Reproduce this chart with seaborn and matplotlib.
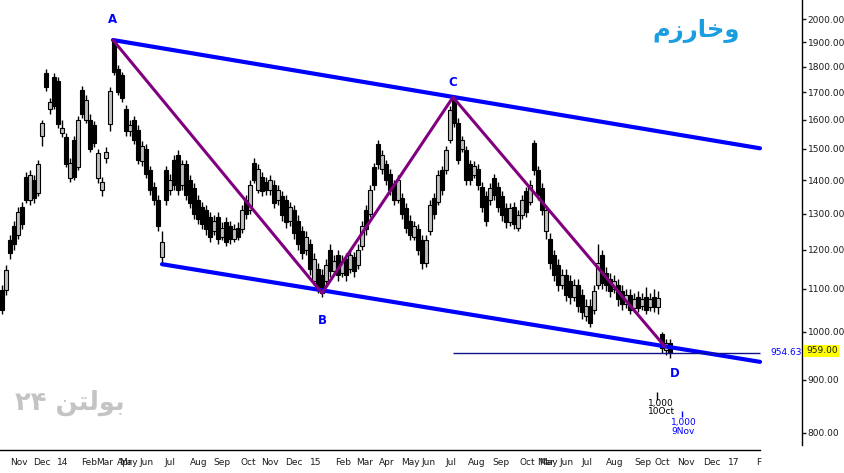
#%%
# Loading packages
import numpy as np
import matplotlib
matplotlib.use("Agg")
import matplotlib.pyplot as plt
import matplotlib.ticker as mticker
import matplotlib.transforms as mtransforms
import seaborn as sns

sns.set_style("white")
plt.rcParams['font.family'] = ['DejaVu Sans']

#%%
# Daily candles (bar index on x, halted days are not shown)
opens = [1098, 1098, 1226, 1265, 1240, 1320, 1410, 1340, 1400, 1360,
         1545, 1775, 1640, 1760, 1745, 1555, 1540, 1405, 1530, 1440,
         1710, 1600, 1600, 1580, 1405, 1370, 1470, 1585, 1905, 1790,
         1765, 1640, 1560, 1600, 1565, 1460, 1500, 1430, 1380, 1340,
         1180, 1430, 1370, 1465, 1480, 1385, 1450, 1400, 1375, 1340,
         1320, 1310, 1290, 1250, 1290, 1235, 1275, 1265, 1230, 1260,
         1255, 1340, 1310, 1455, 1370, 1410, 1395, 1370, 1385, 1340,
         1350, 1340, 1280, 1310, 1280, 1250, 1200, 1215, 1120, 1150,
         1135, 1120, 1200, 1145, 1185, 1140, 1175, 1150, 1180, 1160,
         1210, 1310, 1300, 1440, 1515, 1435, 1450, 1420, 1385, 1340,
         1345, 1315, 1280, 1235, 1255, 1225, 1165, 1250, 1345, 1335,
         1430, 1430, 1530, 1670, 1590, 1500, 1495, 1450, 1415, 1435,
         1380, 1350, 1340, 1405, 1380, 1350, 1315, 1275, 1320, 1260,
         1295, 1365, 1335, 1520, 1430, 1375, 1250, 1230, 1185, 1160,
         1110, 1135, 1120, 1080, 1110, 1085, 1035, 1060, 1050, 1110,
         1185, 1140, 1125, 1100, 1110, 1095, 1065, 1085, 1055, 1080,
         1060, 1080, 1058, 1080, 1058, 995, 960, 975]
closes = [1050, 1147, 1190, 1215, 1305, 1270, 1340, 1415, 1345, 1450,
          1590, 1720, 1665, 1650, 1585, 1570, 1450, 1455, 1410, 1600,
          1620, 1670, 1500, 1520, 1485, 1395, 1490, 1705, 1780, 1700,
          1680, 1560, 1580, 1530, 1465, 1510, 1420, 1370, 1340, 1265,
          1220, 1340, 1400, 1385, 1370, 1450, 1355, 1330, 1300, 1285,
          1270, 1255, 1235, 1280, 1230, 1260, 1220, 1230, 1255, 1235,
          1310, 1300, 1385, 1400, 1435, 1365, 1370, 1400, 1330, 1370,
          1295, 1275, 1320, 1245, 1215, 1190, 1235, 1150, 1175, 1100,
          1090, 1160, 1145, 1170, 1135, 1170, 1135, 1185, 1145, 1200,
          1265, 1255, 1370, 1385, 1450, 1480, 1400, 1370, 1340, 1400,
          1300, 1260, 1240, 1265, 1200, 1165, 1225, 1325, 1300, 1415,
          1370, 1495, 1635, 1590, 1465, 1530, 1400, 1400, 1445, 1385,
          1320, 1280, 1375, 1355, 1320, 1295, 1275, 1315, 1270, 1295,
          1340, 1305, 1385, 1430, 1355, 1310, 1310, 1165, 1135, 1110,
          1135, 1085, 1080, 1110, 1060, 1045, 1060, 1020, 1095, 1165,
          1115, 1110, 1095, 1120, 1075, 1065, 1085, 1050, 1075, 1055,
          1075, 1050, 1075, 1058, 1078, 965, 975, 955]
highs = [1110, 1160, 1240, 1280, 1320, 1335, 1425, 1430, 1415, 1465,
         1600, 1790, 1680, 1775, 1760, 1600, 1555, 1470, 1545, 1615,
         1725, 1690, 1620, 1595, 1500, 1410, 1505, 1720, 1915, 1805,
         1780, 1655, 1600, 1615, 1580, 1525, 1515, 1445, 1395, 1355,
         1250, 1445, 1420, 1480, 1495, 1465, 1465, 1415, 1390, 1355,
         1335, 1325, 1305, 1295, 1305, 1275, 1290, 1280, 1270, 1275,
         1325, 1355, 1400, 1470, 1450, 1425, 1410, 1415, 1400, 1385,
         1365, 1355, 1335, 1325, 1295, 1265, 1250, 1230, 1190, 1165,
         1150, 1175, 1215, 1185, 1200, 1185, 1190, 1200, 1195, 1215,
         1280, 1325, 1385, 1455, 1530, 1495, 1465, 1435, 1400, 1415,
         1360, 1330, 1295, 1280, 1270, 1240, 1240, 1340, 1360, 1430,
         1445, 1510, 1650, 1690, 1605, 1545, 1510, 1465, 1460, 1450,
         1395, 1365, 1390, 1420, 1395, 1365, 1330, 1330, 1335, 1310,
         1355, 1380, 1400, 1530, 1445, 1390, 1325, 1245, 1200, 1175,
         1150, 1150, 1135, 1125, 1125, 1100, 1075, 1075, 1110, 1215,
         1200, 1155, 1140, 1135, 1125, 1110, 1100, 1100, 1090, 1095,
         1090, 1105, 1090, 1100, 1095, 1000, 985, 985]
lows = [1040, 1085, 1175, 1200, 1230, 1255, 1330, 1325, 1330, 1350,
        1510, 1705, 1620, 1640, 1570, 1540, 1440, 1395, 1400, 1430,
        1605, 1590, 1490, 1505, 1390, 1350, 1455, 1560, 1765, 1690,
        1665, 1545, 1545, 1515, 1450, 1445, 1405, 1355, 1325, 1250,
        1160, 1325, 1355, 1370, 1355, 1370, 1340, 1315, 1285, 1270,
        1255, 1240, 1220, 1240, 1215, 1225, 1210, 1215, 1220, 1225,
        1245, 1285, 1300, 1390, 1360, 1350, 1355, 1355, 1315, 1325,
        1280, 1260, 1265, 1230, 1200, 1175, 1185, 1135, 1110, 1090,
        1080, 1110, 1130, 1135, 1120, 1130, 1120, 1140, 1130, 1150,
        1200, 1240, 1290, 1370, 1435, 1420, 1385, 1355, 1325, 1330,
        1285, 1245, 1225, 1225, 1185, 1150, 1155, 1240, 1285, 1325,
        1355, 1420, 1520, 1575, 1450, 1490, 1385, 1385, 1405, 1370,
        1305, 1265, 1325, 1340, 1305, 1280, 1260, 1265, 1255, 1250,
        1285, 1290, 1325, 1415, 1340, 1295, 1230, 1150, 1120, 1095,
        1100, 1070, 1065, 1070, 1045, 1030, 1025, 1010, 1040, 1100,
        1100, 1095, 1080, 1090, 1060, 1050, 1055, 1040, 1045, 1045,
        1050, 1040, 1048, 1045, 1040, 955, 950, 945]

# month ticks (bar index where each month starts)
month_pos = [1.25, 7, 13, 19, 22.75, 28, 28.5, 33.75, 40, 46.25, 52.25, 59,
             64, 70, 76.25, 82.5, 87.75, 93.5, 99, 104.25, 110.25, 115.75,
             122, 128.75, 133, 133.5, 138.75, 144.25, 150.25, 157.5, 162.5,
             168, 174.5, 180.75, 187.75]
month_lbl = ["Nov", "Dec", "14", "Feb", "Mar", "Apr", "May", "Jun", "Jul",
             "Aug", "Sep", "Oct", "Nov", "Dec", "15", "Feb", "Mar", "Apr",
             "May", "Jun", "Jul", "Aug", "Sep", "Oct", "Mar", "May", "Jun",
             "Jul", "Aug", "Sep", "Oct", "Nov", "Dec", "17", "F"]
price_ticks = [800, 900, 1000, 1100, 1200, 1300, 1400, 1500, 1600, 1700,
               1800, 1900, 2000]

# ABCD swing points and channel lines
abcd_x = [27.75, 80, 112.75, 165.75]
abcd_y = [1909, 1090, 1682, 968]
abcd_lbl = ["A", "B", "C", "D"]
lbl_x = [27.5, 80, 112.75, 168.25]
lbl_y = [2000, 1025, 1739, 913]
upper_x = [27.75, 189.5]
upper_y = [1909, 1502]
lower_x = [40, 189.5]
lower_y = [1162, 936]
level = 954.63
last_price = 959.00

# pre-shaped Arabic presentation forms in visual order
title = "\uFEE1\uFEAF\uFEAD\uFE8E\uFEA7\uFEED"          # وخارزم
watermark = "\u06F2\u06F4 \uFEE6\uFE98\uFEDF\uFEEE\uFE91"  # بولتن ۲۴

#%%
# Plot
fig = plt.figure(figsize=(8.44, 4.73), dpi=100)
ax = fig.add_axes([0, 23 / 473, 802 / 844, 450 / 473])

o = np.array(opens, float)
c = np.array(closes, float)
x = np.arange(len(c))
lo = np.minimum(o, c)
hi = np.maximum(o, c)
ax.vlines(x, lows, highs, color="black", lw=1, zorder=2)
ax.bar(x, hi - lo, bottom=lo, width=0.8,
       color=np.where(c >= o, "#c0c0c0", "black"),
       edgecolor="black", linewidth=0.8, zorder=2.5)

sns.lineplot(x=upper_x, y=upper_y, ax=ax, color="#0000ff", lw=3, zorder=3)
sns.lineplot(x=lower_x, y=lower_y, ax=ax, color="#0000ff", lw=3, zorder=3)
sns.lineplot(x=abcd_x, y=abcd_y, ax=ax, color="#800080", lw=2.2, zorder=3.5,
             sort=False)
for lx, ly, t in zip(lbl_x, lbl_y, abcd_lbl):
    ax.text(lx, ly, t, ha="center", va="center", color="#0000ff",
            fontsize=8.5, fontweight="bold")

ax.hlines(level, 112.75, 189.5, color="#10108a", lw=1, zorder=3)
ax.text(192, level, f"{level:.2f}", color="#0000ff", fontsize=6.5,
        ha="left", va="center")

ax.set_yscale("log")
ax.set_xlim(-0.5, 200)
ax.set_ylim(770, 2086)
ax.yaxis.set_major_locator(mticker.FixedLocator(price_ticks))
ax.yaxis.set_major_formatter(mticker.FuncFormatter(lambda v, p: f"{v:.2f}"))
ax.yaxis.set_minor_locator(mticker.NullLocator())
ax.yaxis.tick_right()
ax.set_xticks(month_pos)
ax.set_xticklabels(month_lbl)
ax.tick_params(axis="y", direction="out", length=3, width=1, pad=1,
               labelsize=6.5, colors="#1a1a1a")
ax.tick_params(axis="x", direction="out", length=4, width=1, pad=2,
               labelsize=6.5, colors="#1a1a1a")
shift = mtransforms.ScaledTranslation(2 / 72, 0, fig.dpi_scale_trans)
for lab in ax.get_xticklabels():
    lab.set_horizontalalignment("left")
    lab.set_transform(lab.get_transform() + shift)

for side in ["left", "top"]:
    ax.spines[side].set_visible(False)
for side in ["right", "bottom"]:
    ax.spines[side].set_color("black")
    ax.spines[side].set_linewidth(1)
ax.spines["bottom"].set_bounds(-0.5, 189.5)
ax.spines["right"].set_bounds(778, 2086)
ax.set_xlabel("")
ax.set_ylabel("")

# last price box on the axis
blend = mtransforms.blended_transform_factory(ax.transAxes, ax.transData)
ax.text(1.005, last_price, f"{last_price:.2f}", transform=blend, fontsize=6.5,
        ha="left", va="center", color="#1a1a1a", clip_on=False,
        bbox=dict(fc="#ffff00", ec="none", pad=1.2))

# volume-style markers under the chart
ax.vlines(163.75, 861, 876, color="black", lw=1)
ax.text(161.5, 846, "1,000\n10Oct", fontsize=6.5, color="black",
        ha="left", va="center", linespacing=0.9)
ax.vlines(170, 828, 840, color="#0000ff", lw=1)
ax.text(167.25, 810, "1,000\n9Nov", fontsize=6.5, color="#0000ff",
        ha="left", va="center", linespacing=0.9)

fig.text(740 / 844, 1 - 31 / 473, title, ha="right", va="center",
         fontsize=17.5, fontweight="bold", color="#1a9ee0")
fig.text(15 / 844, 1 - 403 / 473, watermark, ha="left", va="center",
         fontsize=18.5, fontweight="bold", color="#c4c4c4")

fig.savefig("out.png", dpi=100)
